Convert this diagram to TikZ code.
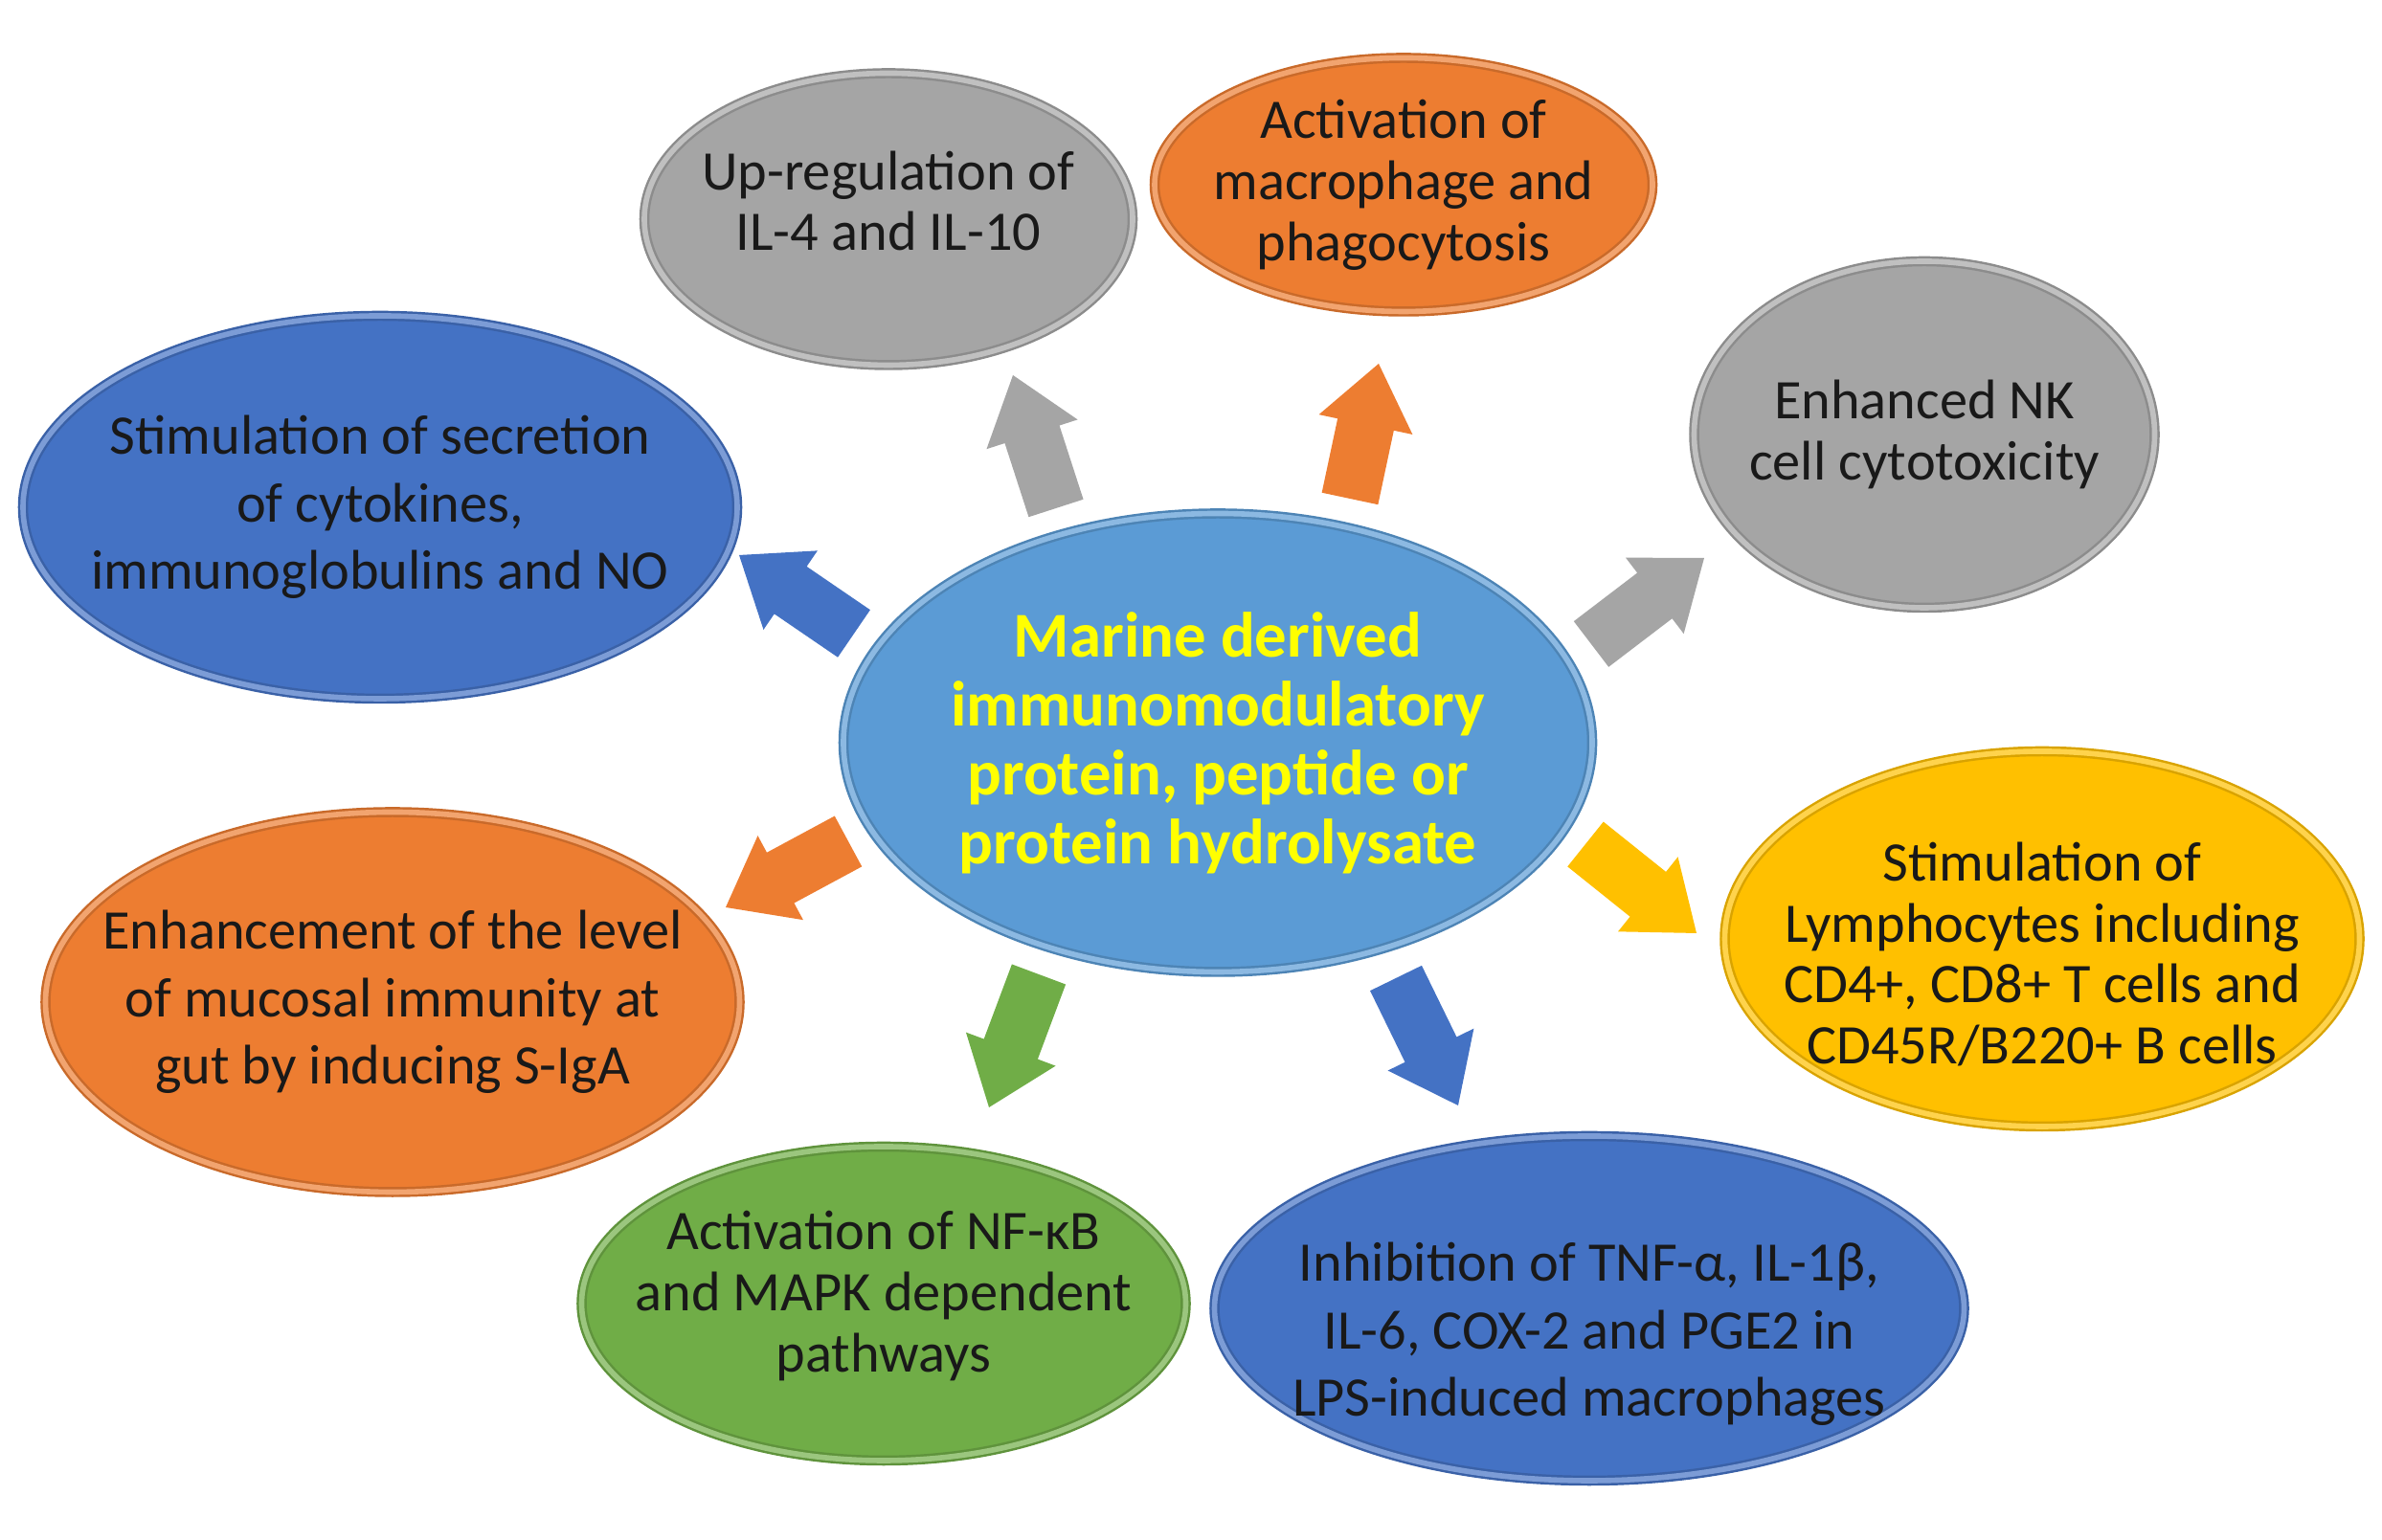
\documentclass[tikz,border=0pt]{standalone}
\usepackage{fontspec}
\setmainfont{Carlito}
\usepackage{tikz}
\usetikzlibrary{shapes.geometric,calc}
\definecolor{bubblegray}{RGB}{165,165,165}
\definecolor{bubbleorange}{RGB}{237,125,49}
\definecolor{bubbleblue}{RGB}{68,114,196}
\definecolor{bubbleyellow}{RGB}{255,192,0}
\definecolor{bubblegreen}{RGB}{112,173,71}
\definecolor{corecolor}{RGB}{91,155,213}
\definecolor{coretext}{RGB}{255,255,0}

% fat arrow: tail, tip, colour
\newcommand{\blockarrow}[3]{%
  \coordinate (#1-n) at ($(#2)!0.65cm!(#1)$);
  \fill[#3] ($(#1)!0.3cm!90:(#2)$) -- ($(#1-n)!0.3cm!90:(#2)$) -- ($(#1-n)!0.5cm!90:(#2)$) -- (#2)
    -- ($(#1-n)!0.5cm!-90:(#2)$) -- ($(#1-n)!0.3cm!-90:(#2)$) -- ($(#1)!0.3cm!-90:(#2)$) -- cycle;
}

\begin{document}
\begin{tikzpicture}[
  bubble/.style={ellipse, fill=#1, draw=#1!85!black, line width=0.7pt, double=#1!70!white,
    double distance=1.6pt, inner sep=0pt},
  txt/.style={align=center, text=black!90, inner sep=0pt, font=\fontsize{16.6}{18.2}\selectfont},
  wide/.style={font=\fontsize{16.6}{20.1}\selectfont},
  coretxt/.style={align=center, text=coretext, inner sep=0pt,
    font=\bfseries\fontsize{19}{20.5}\selectfont}]
\useasboundingbox (0,0) rectangle (24.88,16.09);

% centre
\node[bubble=corecolor, minimum width=7.82cm, minimum height=4.79cm] (core) at (12.72,8.33) {};
\node[coretxt] (core-t) at (core) {Marine derived\\immunomodulatory\\protein, peptide or\\protein hydrolysate};

% effects, clockwise from top
\node[bubble=bubblegray, minimum width=5.1cm, minimum height=3.05cm] (upreg) at (9.28,13.8) {};
\node[txt] (upreg-t) at ([yshift=0.19cm]upreg) {Up-regulation of\\IL-4 and IL-10};

\node[bubble=bubbleorange, minimum width=5.2cm, minimum height=2.65cm] (macro) at (14.66,14.16) {};
\node[txt] (macro-t) at (macro) {Activation of\\macrophage and\\phagocytosis};

\node[bubble=bubblegray, minimum width=4.81cm, minimum height=3.62cm] (nk) at (20.10,11.55) {};
\node[txt] (nk-t) at (nk) {Enhanced NK\\cell cytotoxicity};

\node[bubble=bubbleyellow, minimum width=6.63cm, minimum height=3.92cm] (lymph) at (21.33,6.28) {};
\node[txt] (lymph-t) at ([yshift=-0.16cm]lymph)
  {Stimulation of\\Lymphocytes including\\CD4+, CD8+ T cells and\\CD45R/B220+ B cells};

\node[bubble=bubbleblue, minimum width=7.83cm, minimum height=3.6cm] (inhib) at (16.60,2.42) {};
\node[txt, wide] (inhib-t) at ([yshift=-0.27cm]inhib)
  {Inhibition of TNF-α, IL-1β,\\IL-6, COX-2 and PGE2 in\\LPS-induced macrophages};

\node[bubble=bubblegreen, minimum width=6.31cm, minimum height=3.28cm] (nfkb) at (9.23,2.47) {};
\node[txt] (nfkb-t) at ([yshift=0.08cm]nfkb) {Activation of NF-κB\\and MAPK dependent\\pathways};

\node[bubble=bubbleorange, minimum width=7.25cm, minimum height=3.97cm] (mucosal) at (4.10,5.62) {};
\node[txt, wide] (mucosal-t) at (mucosal)
  {Enhancement of the level\\of mucosal immunity at\\gut by inducing S-IgA};

\node[bubble=bubbleblue, minimum width=7.46cm, minimum height=4.0cm] (secr) at (3.97,10.79) {};
\node[txt, wide] (secr-t) at (secr) {Stimulation of secretion\\of cytokines,\\immunoglobulins and NO};

% arrow ends
\coordinate (t-upreg) at (11.03,10.78);   \coordinate (h-upreg) at (10.58,12.17);
\coordinate (t-macro) at (14.10,10.88);   \coordinate (h-macro) at (14.40,12.29);
\coordinate (t-nk) at (16.62,9.36);       \coordinate (h-nk) at (17.80,10.26);
\coordinate (t-lymph) at (16.56,7.27);    \coordinate (h-lymph) at (17.72,6.34);
\coordinate (t-inhib) at (14.58,5.87);    \coordinate (h-inhib) at (15.23,4.54);
\coordinate (t-nfkb) at (10.85,5.91);     \coordinate (h-nfkb) at (10.33,4.52);
\coordinate (t-mucosal) at (8.86,7.30);   \coordinate (h-mucosal) at (7.58,6.61);
\coordinate (t-secr) at (8.92,9.47);      \coordinate (h-secr) at (7.72,10.29);

% arrows
\blockarrow{t-upreg}{h-upreg}{bubblegray}
\blockarrow{t-macro}{h-macro}{bubbleorange}
\blockarrow{t-nk}{h-nk}{bubblegray}
\blockarrow{t-lymph}{h-lymph}{bubbleyellow}
\blockarrow{t-inhib}{h-inhib}{bubbleblue}
\blockarrow{t-nfkb}{h-nfkb}{bubblegreen}
\blockarrow{t-mucosal}{h-mucosal}{bubbleorange}
\blockarrow{t-secr}{h-secr}{bubbleblue}
\end{tikzpicture}
\end{document}
